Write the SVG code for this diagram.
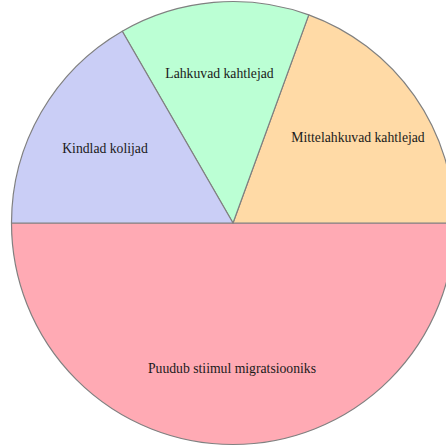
<svg xmlns="http://www.w3.org/2000/svg" width="446" height="447" viewBox="0 0 446 447">
<style>
.w{stroke:#808080;stroke-width:1.2;stroke-linejoin:round}
.t{font-family:"Liberation Serif","Times New Roman",serif;font-size:13.7px;fill:#1a1a1a;text-anchor:middle}
</style>
<rect width="446" height="447" fill="#ffffff"/>
<g id="puudub">
<path class="w" fill="#ffaab4" d="M233,223 L11.5,223 A221.5,221.5 0 0 0 454.5,223 Z"/>
<text class="t" x="232" y="373">Puudub stiimul migratsiooniks</text>
</g>
<g id="mittelahkuvad">
<path class="w" fill="#ffdaa6" d="M233,223 L454.5,223 A221.5,221.5 0 0 0 308.76,14.86 Z"/>
<text class="t" x="358" y="141.5">Mittelahkuvad kahtlejad</text>
</g>
<g id="lahkuvad">
<path class="w" fill="#bbffd4" d="M233,223 L308.76,14.86 A221.5,221.5 0 0 0 122.25,31.18 Z"/>
<text class="t" x="219.5" y="78">Lahkuvad kahtlejad</text>
</g>
<g id="kindlad">
<path class="w" fill="#cacef6" d="M233,223 L122.25,31.18 A221.5,221.5 0 0 0 11.5,223 Z"/>
<text class="t" x="105" y="152.5">Kindlad kolijad</text>
</g>
<g id="connectors"></g>
</svg>
